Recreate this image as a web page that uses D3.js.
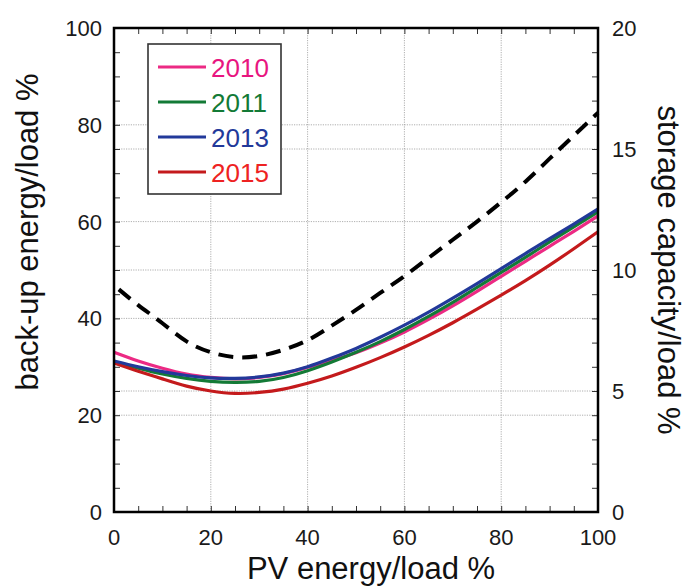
<!DOCTYPE html>
<html>
<head>
<meta charset="utf-8">
<script src="https://cdn.jsdelivr.net/npm/d3@7"></script>
<style>
  html, body { margin: 0; padding: 0; background: #fff; }
  svg { display: block; font-family: Arial, "Liberation Sans", sans-serif; }
</style>
</head>
<body>
<svg id="chart" width="686" height="588"></svg>
<script>
// PV energy share of load (%) at which the curves are sampled
const pvShare = [0, 5, 10, 15, 20, 25, 30, 35, 40, 45, 50, 55, 60, 65, 70, 75, 80, 85, 90, 95, 100];

// Back-up energy / load (%) for each weather year
const backup2010 = [33.0, 31.2, 29.7, 28.5, 27.8, 27.5, 27.8, 28.6, 29.9, 31.3, 32.9, 34.9, 37.2, 39.8, 42.6, 45.6, 48.7, 51.8, 54.9, 58.0, 61.2];
const backup2011 = [31.0, 29.7, 28.5, 27.6, 27.0, 26.8, 27.0, 27.8, 29.2, 31.0, 33.0, 35.2, 37.7, 40.4, 43.3, 46.4, 49.5, 52.6, 55.8, 58.9, 62.0];
const backup2013 = [31.2, 30.0, 29.0, 28.2, 27.7, 27.6, 27.9, 28.7, 30.0, 31.8, 33.8, 36.1, 38.6, 41.3, 44.2, 47.2, 50.3, 53.4, 56.5, 59.5, 62.6];
const backup2015 = [30.8, 29.1, 27.5, 26.0, 25.0, 24.5, 24.7, 25.4, 26.6, 28.1, 29.9, 31.9, 34.1, 36.5, 39.1, 41.9, 44.8, 47.8, 51.0, 54.4, 57.9];

// Storage capacity / load (%), right axis
const storagePv = [1, 5, 10, 15, 20, 25, 30, 35, 40, 45, 50, 55, 60, 65, 70, 75, 80, 85, 90, 95, 100];
const storage = [9.2, 8.55, 7.8, 7.05, 6.6, 6.4, 6.45, 6.7, 7.1, 7.7, 8.35, 9.05, 9.75, 10.5, 11.25, 12.0, 12.8, 13.65, 14.6, 15.55, 16.5];

const years = ["2010", "2011", "2013", "2015"];
const lineColors = ["#ec2a84", "#137a36", "#22399a", "#c41a1c"];
const labelColors = ["#e8157f", "#137a36", "#22399a", "#ee2222"];
const backupSeries = [backup2010, backup2011, backup2013, backup2015];

const xTicks = [0, 20, 40, 60, 80, 100];
const yLeftTicks = [0, 20, 40, 60, 80, 100];
const yRightTicks = [0, 5, 10, 15, 20];

const svg = d3.select("#chart");
const L = 114, R = 598, T = 28, B = 512;

const x = d3.scaleLinear().domain([0, 100]).range([L, R]);
const y = d3.scaleLinear().domain([0, 100]).range([B, T]);
const y2 = d3.scaleLinear().domain([0, 20]).range([B, T]);

// dotted grid: every 20 on the left scale and every 5 on the right scale
const grid = svg.append("g").attr("stroke", "#9a9a9a").attr("stroke-width", 0.8)
  .attr("stroke-dasharray", "1.2,1.2");
[20, 40, 60, 80].forEach(v => {
  grid.append("line").attr("x1", x(v)).attr("x2", x(v)).attr("y1", T).attr("y2", B);
  grid.append("line").attr("x1", L).attr("x2", R).attr("y1", y(v)).attr("y2", y(v));
});
[5, 10, 15].forEach(v => {
  grid.append("line").attr("x1", L).attr("x2", R).attr("y1", y2(v)).attr("y2", y2(v));
});

// inward ticks on all four sides
const tickLen = 6;
const axBottom = d3.axisBottom(x).ticks(20).tickSize(-tickLen).tickFormat("");
const axTop = d3.axisTop(x).ticks(20).tickSize(-tickLen).tickFormat("");
const axLeft = d3.axisLeft(y).ticks(20).tickSize(-tickLen).tickFormat("");
const axRight = d3.axisRight(y2).ticks(20).tickSize(-tickLen).tickFormat("");
[[axBottom, `translate(0,${B})`], [axTop, `translate(0,${T})`],
 [axLeft, `translate(${L},0)`], [axRight, `translate(${R},0)`]].forEach(([a, tr]) => {
  const g = svg.append("g").attr("transform", tr).call(a);
  g.select(".domain").remove();
  g.selectAll("line").attr("stroke", "#333").attr("stroke-width", 1);
});

// tick labels
const labelStyle = g => g.attr("font-size", 22).attr("fill", "#1a1a1a");
svg.append("g").selectAll("text").data(xTicks).join("text")
  .attr("x", d => x(d)).attr("y", B + 33).attr("text-anchor", "middle").text(d => d).call(labelStyle);
svg.append("g").selectAll("text").data(yLeftTicks).join("text")
  .attr("x", L - 12).attr("y", d => y(d) + 8).attr("text-anchor", "end").text(d => d).call(labelStyle);
svg.append("g").selectAll("text").data(yRightTicks).join("text")
  .attr("x", R + 14).attr("y", d => y2(d) + 8).attr("text-anchor", "start").text(d => d).call(labelStyle);

// axis titles
svg.append("text").attr("x", 371).attr("y", 579).attr("text-anchor", "middle")
  .attr("font-size", 31).attr("fill", "#111").text("PV energy/load %");
svg.append("text").attr("transform", `translate(38,${232}) rotate(-90)`).attr("text-anchor", "middle")
  .attr("font-size", 31).attr("fill", "#111").text("back-up energy/load %");
svg.append("text").attr("transform", `translate(658,${270}) rotate(90)`).attr("text-anchor", "middle")
  .attr("font-size", 31).attr("fill", "#111").text("storage capacity/load %");

// storage capacity: dashed black curve on the right scale
const storageLine = d3.line().x((d, i) => x(storagePv[i])).y(d => y2(d)).curve(d3.curveNatural);
svg.append("path").datum(storage).attr("d", storageLine)
  .attr("fill", "none").attr("stroke", "#000").attr("stroke-width", 4)
  .attr("stroke-dasharray", "15,9");

// back-up energy curves
const backupLine = d3.line().x((d, i) => x(pvShare[i])).y(d => y(d)).curve(d3.curveNatural);
[0, 1, 3, 2].forEach(k => {
  svg.append("path").datum(backupSeries[k]).attr("d", backupLine)
    .attr("fill", "none").attr("stroke", lineColors[k]).attr("stroke-width", 3.2);
});

// plot frame
svg.append("rect").attr("x", L).attr("y", T).attr("width", R - L).attr("height", B - T)
  .attr("fill", "none").attr("stroke", "#000").attr("stroke-width", 2.5);

// legend
const lg = svg.append("g");
lg.append("rect").attr("x", 148).attr("y", 44).attr("width", 133).attr("height", 150)
  .attr("fill", "#fff").attr("stroke", "#333").attr("stroke-width", 1.6);
years.forEach((yr, i) => {
  const cy = 67 + i * 35;
  lg.append("line").attr("x1", 158).attr("x2", 206).attr("y1", cy).attr("y2", cy)
    .attr("stroke", lineColors[i]).attr("stroke-width", 2.8);
  lg.append("text").attr("x", 211).attr("y", cy + 10).attr("font-size", 26)
    .attr("fill", labelColors[i]).text(yr);
});
</script>
</body>
</html>
